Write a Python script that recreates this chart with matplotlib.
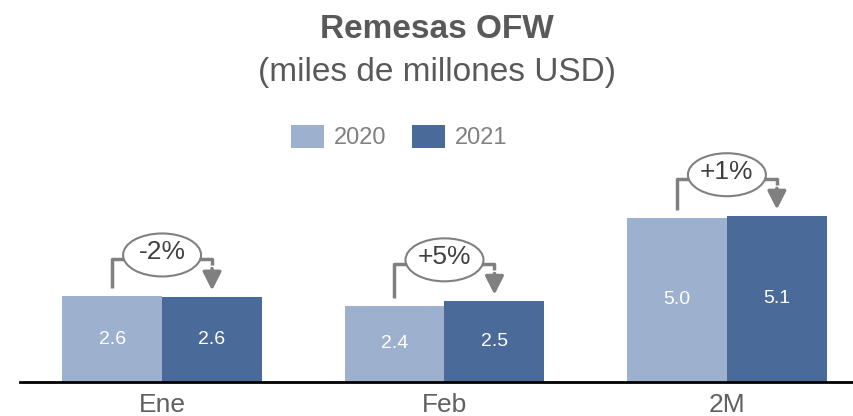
import matplotlib
matplotlib.use("Agg")
import matplotlib.pyplot as plt
from matplotlib.patches import Ellipse
import numpy as np

categories = ["Ene", "Feb", "2M"]
series_names = ["2020", "2021"]
values_2020 = [2.6, 2.4, 5.0]
values_2021 = [2.6, 2.5, 5.1]
heights_2020 = [2.64, 2.35, 5.05]
heights_2021 = [2.62, 2.49, 5.11]
pct_labels = ["-2%", "+5%", "+1%"]

c2020 = "#9DB0CE"
c2021 = "#4A6A99"
gray_line = "#808080"
text_gray = "#595959"

plt.rcParams['font.family'] = ['Liberation Sans', 'DejaVu Sans']

fig = plt.figure(figsize=(8.54, 4.16), dpi=100)
ax = fig.add_axes([20/854, (416-382)/416, 834/854, 282/416])

x = np.arange(len(categories))
w = 100/282.5
ax.bar(x - w/2, heights_2020, w, color=c2020, label=series_names[0])
ax.bar(x + w/2, heights_2021, w, color=c2021, label=series_names[1])

for xi, h, v in zip(x - w/2, heights_2020, values_2020):
    ax.text(xi, h/2, f"{v:.1f}", ha="center", va="center", color="white", fontsize=14)
for xi, h, v in zip(x + w/2, heights_2021, values_2021):
    ax.text(xi, h/2, f"{v:.1f}", ha="center", va="center", color="white", fontsize=14)

ax.set_xlim(-0.503, 2.45)
ax.set_ylim(0, 8.68)

# bracket annotations
for xi, h1, h2, lab in zip(x, heights_2020, heights_2021, pct_labels):
    level = max(h1, h2) + 1.15
    x1 = xi - w/2
    x2 = xi + w/2
    ax.plot([x1, x1, x2, x2], [h1 + 0.25, level, level, level - 0.2],
            color=gray_line, lw=2.5, solid_capstyle="butt", zorder=3)
    ax.annotate("", xy=(x2, h2 + 0.2), xytext=(x2, level - 0.3),
                arrowprops=dict(arrowstyle="-|>,head_length=0.55,head_width=0.28",
                                mutation_scale=20,
                                color=gray_line, lw=2.5, shrinkA=0, shrinkB=0),
                zorder=3)
    ell = Ellipse((xi, level + 0.12), width=78/282.5, height=43/32.5,
                  facecolor="white", edgecolor=gray_line, lw=1.5, zorder=4)
    ax.add_patch(ell)
    ax.text(xi, level + 0.2, lab, ha="center", va="center", fontsize=19,
            color="#404040", zorder=5)

for s in ["top", "right", "left"]:
    ax.spines[s].set_visible(False)
ax.spines["bottom"].set_linewidth(2)
ax.spines["bottom"].set_color("black")
ax.set_yticks([])
ax.set_xticks(x)
ax.set_xticklabels(categories, fontsize=19, color="#606060")
ax.tick_params(axis="x", length=0, pad=8)

fig.text(0.512, 1 - 29/416, "Remesas OFW", ha="center", va="center",
         fontsize=24, fontweight="bold", color=text_gray)
fig.text(0.512, 1 - 73/416, "(miles de millones USD)", ha="center", va="center",
         fontsize=24, color=text_gray)

ax.legend(ncol=2, loc="center", bbox_to_anchor=(399/854, 1 - 137/416),
          bbox_transform=fig.transFigure, frameon=False, fontsize=17,
          handlelength=1.4, handleheight=1.15, handletextpad=0.4,
          columnspacing=1.1, labelcolor="#808080")

fig.savefig("out.png", dpi=100)
